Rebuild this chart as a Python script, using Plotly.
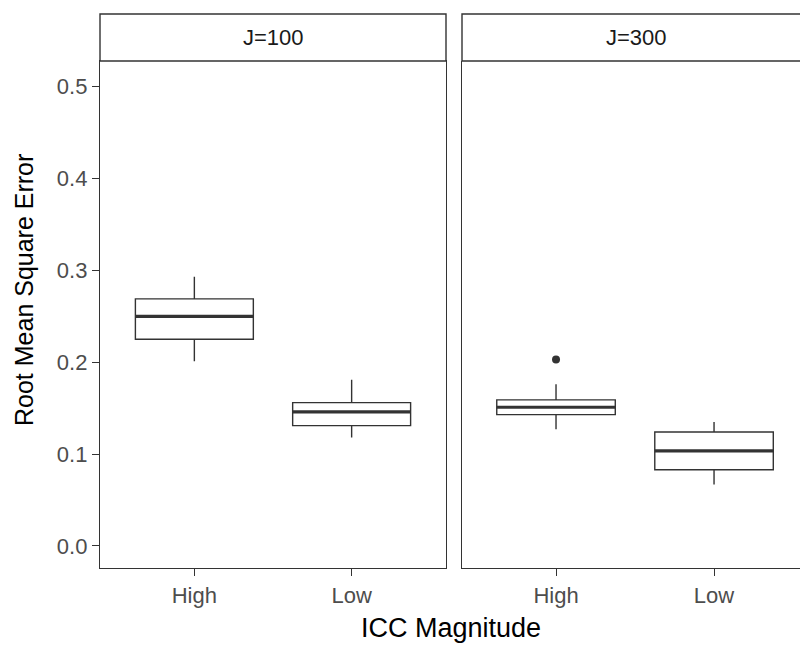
import plotly.graph_objects as go

# Data
panels = ["J=100", "J=300"]
categories = ["High", "Low"]
lower_j100 = [0.201, 0.118]
q1_j100 = [0.225, 0.131]
median_j100 = [0.250, 0.146]
q3_j100 = [0.269, 0.156]
upper_j100 = [0.293, 0.181]

lower_j300 = [0.127, 0.067]
q1_j300 = [0.143, 0.083]
median_j300 = [0.151, 0.1035]
q3_j300 = [0.159, 0.124]
upper_j300 = [0.176, 0.135]

outlier_cat_j300 = ["High"]
outlier_val_j300 = [0.203]

y_ticks = [0.0, 0.1, 0.2, 0.3, 0.4, 0.5]

LINE = "#333333"
BOX_W = 0.75
xpos = list(range(len(categories)))

fig = go.Figure()

def add_panel(xa, ya, lo, q1, med, q3, up):
    fig.add_trace(go.Box(
        x=xpos, lowerfence=lo, q1=q1, median=med, q3=q3, upperfence=up,
        xaxis=xa, yaxis=ya, width=BOX_W, boxpoints=False,
        fillcolor="white", line=dict(color=LINE, width=1.4),
        whiskerwidth=0, showlegend=False, hoverinfo="skip"))
    # thicker median line (ggplot style)
    for i, m in zip(xpos, med):
        fig.add_trace(go.Scatter(
            x=[i - BOX_W / 2, i + BOX_W / 2], y=[m, m], mode="lines",
            line=dict(color=LINE, width=3.2), xaxis=xa, yaxis=ya,
            showlegend=False, hoverinfo="skip"))

add_panel("x", "y", lower_j100, q1_j100, median_j100, q3_j100, upper_j100)
add_panel("x2", "y2", lower_j300, q1_j300, median_j300, q3_j300, upper_j300)

fig.add_trace(go.Scatter(
    x=[categories.index(c) for c in outlier_cat_j300], y=outlier_val_j300,
    mode="markers", marker=dict(color=LINE, size=8),
    xaxis="x2", yaxis="y2", showlegend=False, hoverinfo="skip"))

FONT = "Liberation Sans, Arial, sans-serif"
tickfont = dict(family=FONT, size=22, color="#4d4d4d")

axis_common = dict(
    type="linear", showgrid=False, zeroline=False, showline=True, linecolor=LINE,
    linewidth=1.4, ticks="outside", ticklen=7, tickcolor=LINE, tickwidth=1.3,
    tickfont=tickfont)

fig.update_layout(
    width=800, height=646,
    margin=dict(l=100, r=0, t=61, b=78),
    paper_bgcolor="white", plot_bgcolor="white",
    font=dict(family=FONT),
    xaxis=dict(domain=[0, 346 / 700], range=[-0.6, 1.6], tickmode="array",
               tickvals=xpos, ticktext=categories, mirror=True, **axis_common),
    yaxis=dict(domain=[0, 1], range=[-0.024, 0.528], tickmode="array", tickvals=y_ticks,
               ticktext=[f"{v:.1f}" for v in y_ticks], mirror=True, **axis_common),
    xaxis2=dict(domain=[362 / 700, 1], range=[-0.595, 1.544], tickmode="array",
                tickvals=xpos, ticktext=categories, anchor="y2", **axis_common),
    yaxis2=dict(domain=[0, 1], range=[-0.024, 0.528], anchor="x2",
                showticklabels=False, **{**axis_common, "ticks": ""}),
)

# strips
strip_top = (568 - 14) / 507
p2_right = (810 - 100) / 700
fig.add_shape(type="rect", xref="paper", yref="paper", x0=0, x1=346 / 700,
              y0=1, y1=strip_top, line=dict(color=LINE, width=1.4), fillcolor="white")
fig.add_shape(type="rect", xref="paper", yref="paper", x0=362 / 700, x1=p2_right,
              y0=1, y1=strip_top, line=dict(color=LINE, width=1.4), fillcolor="white")
for xc, lab in [((346 / 700) / 2, panels[0]), ((362 / 700 + p2_right) / 2, panels[1])]:
    fig.add_annotation(x=xc, y=(1 + strip_top) / 2, xref="paper", yref="paper",
                       xanchor="center", yanchor="middle",
                       text=lab, showarrow=False,
                       font=dict(family=FONT, size=22, color="#1a1a1a"))

fig.add_annotation(x=(24 - 100) / 700, y=(568 - 290) / 507, xref="paper", yref="paper",
                   xanchor="center", yanchor="middle",
                   text="Root Mean Square Error", textangle=-90, showarrow=False,
                   font=dict(family=FONT, size=25, color="black"))
fig.add_annotation(x=(451 - 100) / 700, y=(568 - 628) / 507, xref="paper", yref="paper",
                   xanchor="center", yanchor="middle",
                   text="ICC Magnitude", showarrow=False,
                   font=dict(family=FONT, size=27, color="black"))

fig.write_html("out.html")
